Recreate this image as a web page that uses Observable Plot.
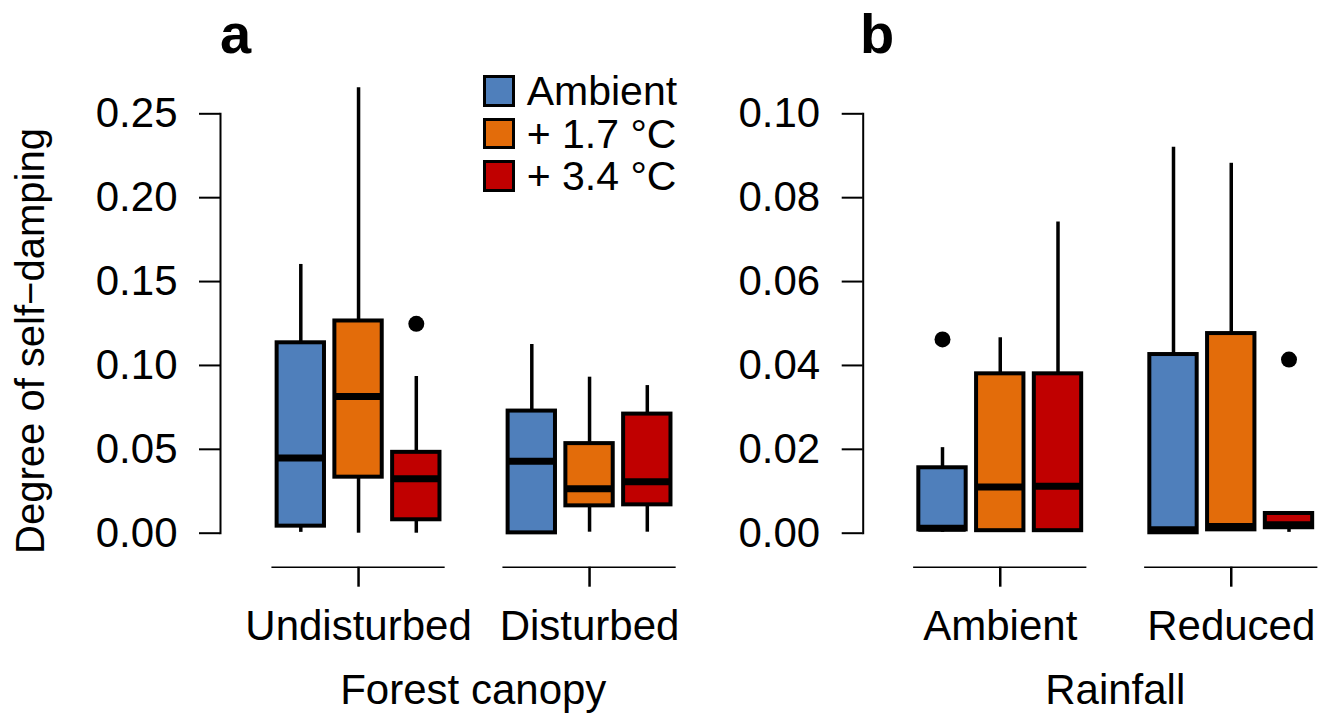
<!DOCTYPE html>
<html><head><meta charset="utf-8">
<script src="https://cdn.jsdelivr.net/npm/d3@7"></script>
<script src="https://cdn.jsdelivr.net/npm/@observablehq/plot@0.6"></script>
<style>
body{margin:0;background:#fff;font-family:"Liberation Sans",Arial,Helvetica,sans-serif;}
#wrap{position:relative;width:1334px;height:724px;overflow:hidden;background:#fff;}
.panel{position:absolute;top:0;}
.abs{position:absolute;white-space:nowrap;color:#000;line-height:1;}
.sw{position:absolute;box-sizing:border-box;border:3px solid #000;}
</style></head><body><div id="wrap"></div>
<script>
// ---- data ----
const treatments = ["Ambient", "+ 1.7 °C", "+ 3.4 °C"];
const treatmentColors = ["#4f7fbb", "#e36c0a", "#c00000"];

// Panel a: Forest canopy (order: Undisturbed [Amb, 1.7, 3.4], Disturbed [Amb, 1.7, 3.4])
const canopyGroups = ["Undisturbed", "Disturbed"];
const canopyLo  = [0.0005, 0.0000, 0.0000, 0.0000, 0.0006, 0.0006];
const canopyQ1  = [0.0042, 0.0334, 0.0080, 0.0002, 0.0163, 0.0169];
const canopyMed = [0.0449, 0.0815, 0.0324, 0.0429, 0.0265, 0.0306];
const canopyQ3  = [0.1135, 0.1265, 0.0482, 0.0728, 0.0534, 0.0710];
const canopyHi  = [0.1602, 0.2655, 0.0934, 0.1125, 0.0930, 0.0880];
const canopyOutGroup = ["Undisturbed"];
const canopyOutTreat = ["+ 3.4 °C"];
const canopyOutValue = [0.1248];
const canopyTicks = [0, 0.05, 0.10, 0.15, 0.20, 0.25];

// Panel b: Rainfall (order: Ambient [Amb, 1.7, 3.4], Reduced [Amb, 1.7, 3.4])
const rainGroups = ["Ambient", "Reduced"];
const rainLo  = [0.0002, 0.0003, 0.0003, 0.0000, 0.0005, 0.0002];
const rainQ1  = [0.0008, 0.0006, 0.0006, 0.0001, 0.0008, 0.0013];
const rainMed = [0.0012, 0.0110, 0.0112, 0.0008, 0.0016, 0.0020];
const rainQ3  = [0.0156, 0.0380, 0.0380, 0.0426, 0.0476, 0.0047];
const rainHi  = [0.0204, 0.0466, 0.0742, 0.0920, 0.0882, 0.0050];
const rainOutGroup = ["Ambient", "Reduced"];
const rainOutTreat = ["Ambient", "+ 3.4 °C"];
const rainOutValue = [0.0462, 0.0414];
const rainTicks = [0, 0.02, 0.04, 0.06, 0.08, 0.10];

// ---- drawing ----
function panel({groups, lo, q1, med, q3, hi, outG, outT, outV, yMax, yTicks, width, marginLeft, xRange}) {
  const boxes = [];
  groups.forEach((g, gi) => treatments.forEach((t, ti) => {
    const k = gi * 3 + ti;
    boxes.push({group: g, treatment: t, pos: gi * 4 + ti + 1,
      lo: lo[k], q1: q1[k], med: med[k], q3: q3[k], hi: hi[k]});
  }));
  const centers = groups.map((g, gi) => ({group: g, pos: gi * 4 + 2}));
  const outliers = outV.map((v, i) => ({
    pos: groups.indexOf(outG[i]) * 4 + treatments.indexOf(outT[i]) + 1, value: v}));
  const half = 0.41;
  return Plot.plot({
    width, height: 724,
    marginLeft, marginRight: 0, marginTop: 113.3, marginBottom: 191.3,
    style: {fontFamily: "'Liberation Sans', Arial, Helvetica, sans-serif", background: "transparent", color: "#000"},
    x: {type: "linear", domain: [0, 8], range: xRange, axis: null},
    y: {domain: [0, yMax], axis: null},
    color: {domain: treatments, range: treatmentColors},
    marks: [
      Plot.frame({anchor: "left", strokeWidth: 2, stroke: "#000"}),
      Plot.axisY(yTicks, {anchor: "left", tickSize: 21, tickPadding: 22, strokeWidth: 2,
        tickFormat: d3.format(".2f"), fontSize: 42, label: null}),
      Plot.ruleX(boxes, {x: "pos", y1: "lo", y2: "q1", strokeWidth: 3.5, stroke: "#000"}),
      Plot.ruleX(boxes, {x: "pos", y1: "q3", y2: "hi", strokeWidth: 3.5, stroke: "#000"}),
      Plot.rect(boxes, {x1: d => d.pos - half, x2: d => d.pos + half, y1: "q1", y2: "q3",
        fill: "treatment", stroke: "#000", strokeWidth: 4}),
      Plot.ruleY(boxes, {x1: d => d.pos - half, x2: d => d.pos + half, y: "med", strokeWidth: 7, stroke: "#000"}),
      Plot.dot(outliers, {x: "pos", y: "value", r: 8, fill: "#000", stroke: null}),
      Plot.ruleY(centers, {x1: d => d.pos - 1.5, x2: d => d.pos + 1.5, y: 0, dy: 34, strokeWidth: 1.5, stroke: "#000"}),
      Plot.axisX(centers.map(d => d.pos), {anchor: "bottom", tickSize: 20, tickPadding: 23, dy: 34,
        strokeWidth: 2.5, fontSize: 42, tickFormat: p => groups[(p - 2) / 4], label: null})
    ]
  });
}

const wrap = document.getElementById("wrap");

const pa = panel({groups: canopyGroups, lo: canopyLo, q1: canopyQ1, med: canopyMed, q3: canopyQ3, hi: canopyHi,
  outG: canopyOutGroup, outT: canopyOutTreat, outV: canopyOutValue, yMax: 0.25, yTicks: canopyTicks,
  width: 720, marginLeft: 220, xRange: [242.55, 704.55]});
pa.classList.add("panel"); pa.style.left = "0px";
wrap.appendChild(pa);

const pb = panel({groups: rainGroups, lo: rainLo, q1: rainQ1, med: rainMed, q3: rainQ3, hi: rainHi,
  outG: rainOutGroup, outT: rainOutTreat, outV: rainOutValue, yMax: 0.10, yTicks: rainTicks,
  width: 614, marginLeft: 142.7, xRange: [164.25, 626.25]});
pb.classList.add("panel"); pb.style.left = "720px";
wrap.appendChild(pb);

function addText(txt, {left, top, size, weight = "normal", width, align = "left", rotate}) {
  const d = document.createElement("div");
  d.className = "abs";
  d.textContent = txt;
  d.style.left = left + "px";
  d.style.top = top + "px";
  d.style.fontSize = size + "px";
  d.style.fontWeight = weight;
  if (width) { d.style.width = width + "px"; d.style.textAlign = align; }
  if (rotate) { d.style.transform = `rotate(${rotate}deg)`; d.style.transformOrigin = "center center"; }
  wrap.appendChild(d);
  return d;
}
// panel letters
addText("a", {left: 220, top: 6, size: 56, weight: "bold"});
addText("b", {left: 860, top: 6, size: 56, weight: "bold"});
// axis titles
addText("Forest canopy", {left: 473.3 - 200, top: 705 - 35.6, size: 42, width: 400, align: "center"});
addText("Rainfall", {left: 1115.25 - 200, top: 705 - 35.6, size: 42, width: 400, align: "center"});
// y title (rotated)
addText("Degree of self\u2212damping", {left: 30 - 300, top: 341 - 20, size: 40, width: 600, align: "center", rotate: -90});
// legend
const legTop = [75, 117.5, 160];
treatments.forEach((t, i) => {
  const s = document.createElement("div");
  s.className = "sw";
  s.style.left = "482.7px"; s.style.top = legTop[i] + "px";
  s.style.width = "32.3px"; s.style.height = "31.7px";
  s.style.background = treatmentColors[i];
  wrap.appendChild(s);
  addText(t, {left: 526.7, top: legTop[i] + 31.7 - 35.6, size: 41});
});
</script></body></html>
